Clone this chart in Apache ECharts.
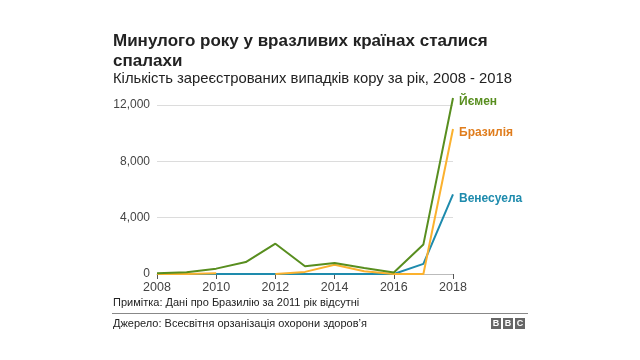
<!DOCTYPE html>
<html><head><meta charset="utf-8">
<script src="https://cdn.jsdelivr.net/npm/echarts@6/dist/echarts.min.js"></script>
<style>html,body{margin:0;padding:0;background:#fff}#c{width:640px;height:360px}</style>
</head><body><div id="c"></div>
<script>
var years = ['2008','2009','2010','2011','2012','2013','2014','2015','2016','2017','2018'];
var yemen = [60, 120, 380, 850, 2150, 550, 780, 430, 100, 2100, 12500];
var brazil = [0, 0, 60, null, 0, 150, 650, 200, 0, 0, 10300];
var venezuela = [0, 0, 0, 0, 0, 0, 0, 0, 0, 720, 5650];
var yTicks = [0, 4000, 8000, 12000];
var seriesNames = ['Йємен', 'Бразилія', 'Венесуела'];

var font = 'Liberation Sans, Arial, Helvetica, sans-serif';
var chart = echarts.init(document.getElementById('c'), null, {renderer:'canvas'});
function mk(name, data, color, labelColor, z){
  return {
    name: name, type: 'line', data: data, symbol: 'none', clip: false, z: z,
    connectNulls: false,
    lineStyle: {color: color, width: 2},
    endLabel: {show: true, formatter: '{a}', color: labelColor, fontFamily: font,
      fontWeight: 'bold', fontSize: 12, distance: 6, offset: [0, 4]}
  };
}
chart.setOption({
  animation: false,
  textStyle: {fontFamily: font},
  grid: {left: 157, right: 187, top: 105, bottom: 86},
  xAxis: {
    type: 'category', data: years, boundaryGap: false,
    axisLine: {show: true, lineStyle: {color: '#bbb', width: 1}},
    axisTick: {show: true, interval: 1, length: 5, lineStyle: {color: '#555'}},
    axisLabel: {interval: 1, color: '#444', fontSize: 12.5, margin: 7, fontFamily: font},
    splitLine: {show: false}
  },
  yAxis: {
    type: 'value', min: 0, max: 12000, interval: 4000,
    axisLine: {show: false}, axisTick: {show: false},
    axisLabel: {color: '#444', fontSize: 12, margin: 7, fontFamily: font,
      formatter: function(v){ return yTicks.indexOf(v) >= 0 ? v.toLocaleString('en-US') : ''; }},
    splitLine: {lineStyle: {color: '#dcdcdc', width: 1}}
  },
  series: [
    mk(seriesNames[2], venezuela, '#1e8bad', '#1e8bad', 2),
    mk(seriesNames[1], brazil, '#fbb12e', '#e07d1d', 3),
    mk(seriesNames[0], yemen, '#588e1f', '#588e1f', 4)
  ],
  graphic: [
    {type: 'text', left: 113, top: 31, style: {text: 'Минулого року у вразливих країнах сталися\nспалахи',
      font: 'bold 17px ' + font, fill: '#222', lineHeight: 20}},
    {type: 'text', left: 113, top: 71, style: {text: 'Кількість зареєстрованих випадків кору за рік, 2008 - 2018',
      font: '14.8px ' + font, fill: '#222'}},
    {type: 'text', left: 113, top: 297, style: {text: 'Примітка: Дані про Бразилію за 2011 рік відсутні',
      font: '11px ' + font, fill: '#222'}},
    {type: 'rect', shape: {x: 112, y: 313, width: 416, height: 1}, style: {fill: '#888'}},
    {type: 'text', left: 113, top: 318, style: {text: 'Джерело: Всесвітня орзанізація охорони здоров’я',
      font: '11px ' + font, fill: '#222'}},
    {type: 'group', left: 491, top: 318, children: [
      {type: 'rect', shape: {x: 0, y: 0, width: 10, height: 11}, style: {fill: '#666'}},
      {type: 'rect', shape: {x: 12, y: 0, width: 10, height: 11}, style: {fill: '#666'}},
      {type: 'rect', shape: {x: 24, y: 0, width: 10, height: 11}, style: {fill: '#666'}},
      {type: 'text', x: 5, y: 6, style: {text: 'B', font: 'bold 9px ' + font, fill: '#fff', align: 'center', verticalAlign: 'middle'}},
      {type: 'text', x: 17, y: 6, style: {text: 'B', font: 'bold 9px ' + font, fill: '#fff', align: 'center', verticalAlign: 'middle'}},
      {type: 'text', x: 29, y: 6, style: {text: 'C', font: 'bold 9px ' + font, fill: '#fff', align: 'center', verticalAlign: 'middle'}}
    ]}
  ]
});
</script></body></html>
